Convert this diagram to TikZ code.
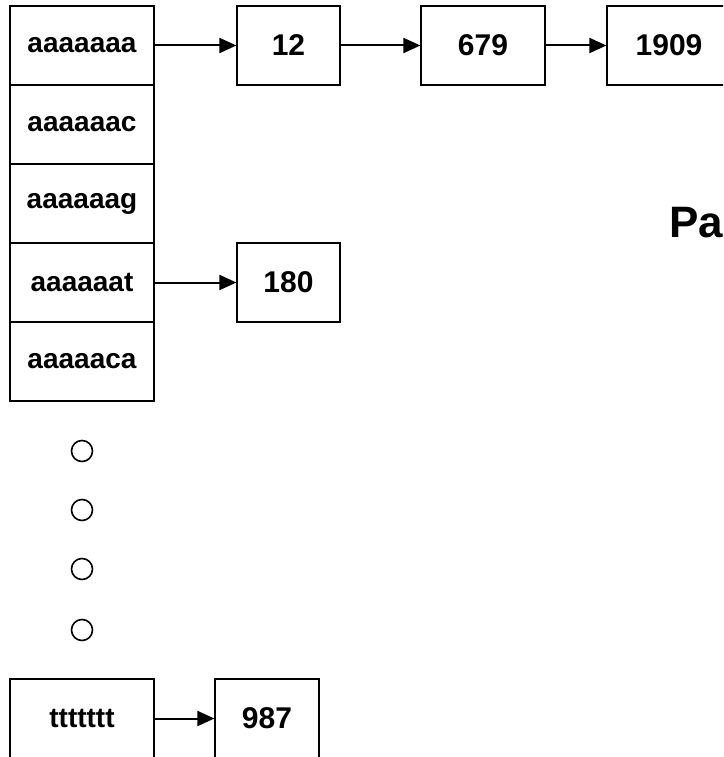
\documentclass[tikz,border=0pt]{standalone}
\usepackage{fontspec}
\setmainfont{Liberation Sans}
\usetikzlibrary{arrows.meta}
\tikzset{
  cell/.style={draw=black, line width=2.2pt, fill=white, inner sep=0pt, font=\bfseries\fontsize{28}{32}\selectfont},
  keycell/.style={cell, minimum width=144pt, minimum height=79pt},
  valbox/.style={cell, font=\bfseries\fontsize{30}{34}\selectfont, minimum height=79pt},
  link/.style={line width=2pt, -{Triangle[length=17pt,width=15pt]}, shorten >=-0.5pt},
  dot/.style={circle, draw=black, line width=1.6pt, minimum size=21pt, inner sep=0pt}
}
\begin{document}
\begin{tikzpicture}[x=1pt,y=-1pt]
\useasboundingbox (0,0) rectangle (723,757);
\clip (0,0) rectangle (723,757);
% key column
\node[keycell] (k1) at (82,45.5) {aaaaaaa};
\node[keycell] (k2) at (82,124.5) {aaaaaac};
\node[keycell] (k3) at (82,203.5) {aaaaaag};
\node[keycell] (k4) at (82,282.5) {aaaaaat};
\node[keycell] (k5) at (82,361.5) {aaaaaca};
% values
\node[valbox, minimum width=103pt] (v12) at (288.5,45.5) {12};
\node[valbox, minimum width=124pt] (v679) at (483,45.5) {679};
\node[valbox, minimum width=124pt] (v1909) at (669,45.5) {1909};
\node[valbox, minimum width=103pt] (v180) at (288.5,282.5) {180};
% dots
\node[dot] (d1) at (82,451) {};
\node[dot] (d2) at (82,510) {};
\node[dot] (d3) at (82,569) {};
\node[dot] (d4) at (82,630) {};
% last row
\node[keycell] (kt) at (82,718.5) {ttttttt};
\node[valbox, minimum width=104pt] (v987) at (267,718.5) {987};
% links
\draw[link] (k1.east) -- (v12.west);
\draw[link] (v12.east) -- (v679.west);
\draw[link] (v679.east) -- (v1909.west);
\draw[link] (k4.east) -- (v180.west);
\draw[link] (kt.east) -- (v987.west);
% title (cut off)
\node[anchor=base west, inner sep=0pt, font=\bfseries\fontsize{44}{50}\selectfont] (title) at (669,237) {Pa};
\end{tikzpicture}
\end{document}
